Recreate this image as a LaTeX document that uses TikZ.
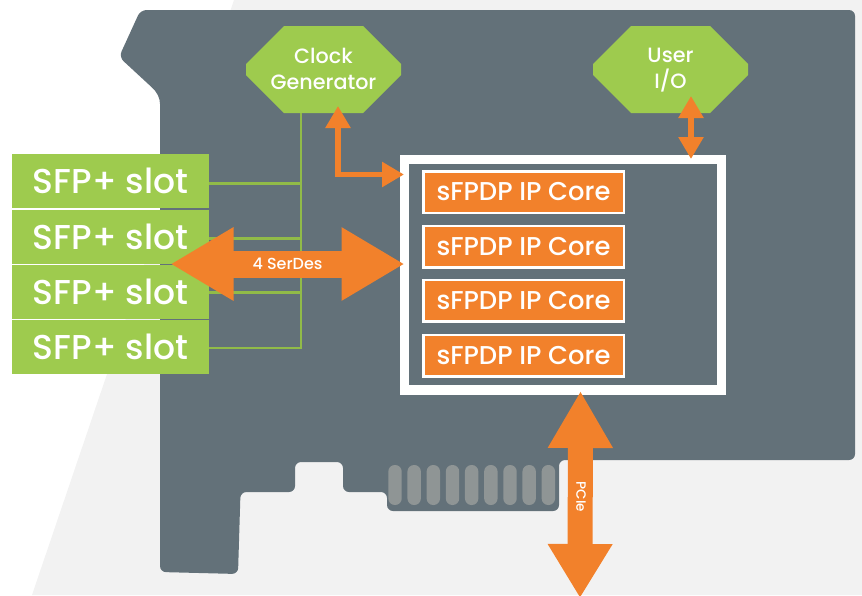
\documentclass[tikz,border=0pt]{standalone}
\usepackage{fontspec}
\setmainfont{Poppins Medium}
\usetikzlibrary{arrows.meta}
\definecolor{boardc}{HTML}{637179}
\definecolor{greenc}{HTML}{9ECB4E}
\definecolor{orangec}{HTML}{F2812B}
\definecolor{bgc}{HTML}{F2F2F2}
\definecolor{pinc}{HTML}{8F9595}
\newcommand{\coretext}{\raisebox{-1pt}{sFPDP IP Core}}
\tikzset{
  slotbox/.style={fill=greenc,text=white,minimum width=197pt,minimum height=54.5pt,inner sep=0pt,outer sep=0pt,font=\fontsize{34.5}{38}\selectfont},
  corebox/.style={fill=orangec,draw=white,line width=2.5pt,text=white,minimum width=200.5pt,minimum height=41.5pt,inner sep=0pt,outer sep=0pt,font=\fontsize{25.8}{30}\selectfont},
  hexlabel/.style={text=white,align=center,inner sep=0pt,font=\fontsize{20.7}{26}\selectfont},
  hexfill/.style={fill=greenc},
  bus/.style={draw=greenc!92!black,line width=2.2pt},
  smallarrow/.style={draw=orangec,line width=5.5pt,{Triangle[length=22pt,width=24pt]}-{Triangle[length=22pt,width=24pt]}},
  pinbar/.style={fill=pinc,rounded corners=6.5pt},
}
\begin{document}
\begin{tikzpicture}[x=1pt,y=-1pt]
\useasboundingbox (0,0) rectangle (862,595);
% background
\fill[bgc] (234,0) -- (862,0) -- (862,595) -- (32,595) -- cycle;
% board
\fill[boardc,rounded corners=6pt] (140.5,10) -- (855,10) -- (855,460) -- (559,460) -- (559,511) -- (387,511) -- (387,492) -- (343,492) -- (343,462) -- (295,462) -- (295,492) -- (240.5,492) -- (238,574) -- (160,572) -- (160,110) [sharp corners] .. controls (160,98) and (157,92) .. (152,87.5) [rounded corners=6pt] -- (119,57) -- cycle;
% connector pins
\foreach \i in {0,...,8}
  \fill[pinbar] ({388.3+19.17*\i},465) rectangle ({401.7+19.17*\i},505);
% hexagons
\fill[hexfill] (284,26) -- (363,26) -- (401,64) -- (401,75) -- (363,113) -- (284,113) -- (246,75) -- (246,64) -- cycle;
\fill[hexfill] (631,26) -- (710,26) -- (748,64) -- (748,75) -- (710,113) -- (631,113) -- (593,75) -- (593,64) -- cycle;
\node[hexlabel] (clk) at (323.5,68.5) {Clock\\Generator};
\node[hexlabel] (usr) at (670.5,70) {User\\I/O};
% slots
\node[slotbox] (s1) at (110.5,181) {SFP+ slot};
\node[slotbox] (s2) at (110.5,237) {SFP+ slot};
\node[slotbox] (s3) at (110.5,292) {SFP+ slot};
\node[slotbox] (s4) at (110.5,347) {SFP+ slot};
% FPGA box
\node[draw=white,line width=9.5pt,minimum width=317pt,minimum height=230.5pt,inner sep=0pt,outer sep=0pt] (fpga) at (563,274.75) {};
\node[corebox] (c1) at (523.5,192) {\coretext};
\node[corebox] (c2) at (523.5,246.5) {\coretext};
\node[corebox] (c3) at (523.5,300.75) {\coretext};
\node[corebox] (c4) at (523.5,355.5) {\coretext};
% bus lines
\coordinate (bustop) at (301,113);
\coordinate (busend) at (301,348);
\draw[bus] (bustop) -- (busend) -- (s4.east |- busend);
\draw[bus] (s1.east |- 0,183.5) -- (bustop |- 0,183.5);
\draw[bus] (s2.east |- 0,238.5) -- (bustop |- 0,238.5);
\draw[bus] (s3.east |- 0,292.5) -- (bustop |- 0,292.5);
% arrows
\coordinate (clktip) at (338,106);
\coordinate (fpgaclk) at (404,174.5);
\draw[smallarrow] (clktip) |- (fpgaclk);
\coordinate (usrtip) at (691,96);
\coordinate (usrend) at (691,159);
\draw[smallarrow] (usrtip) -- (usrend);
\coordinate (serl) at (170.5,264);
\draw[draw=orangec,line width=27pt,{Triangle[length=63pt,width=69pt]}-{Triangle[length=63pt,width=69pt]}] (serl) -- (fpga.west |- serl) node[pos=0.5,text=white,inner sep=0pt,xshift=0pt,font=\fontsize{16}{18}\selectfont] (serlabel) {4 SerDes};
\coordinate (pcietop) at (580.5,391);
\coordinate (pciebot) at (580,598);
\draw[draw=orangec,line width=25pt,{Triangle[length=57pt,width=61pt]}-{Triangle[length=54pt,width=61pt]}] (pcietop) -- (pciebot);
\node[text=white,rotate=-90,inner sep=0pt,font=\fontsize{13.5}{16}\selectfont] (pcielabel) at (581,497) {PCIe};
\end{tikzpicture}
\end{document}
